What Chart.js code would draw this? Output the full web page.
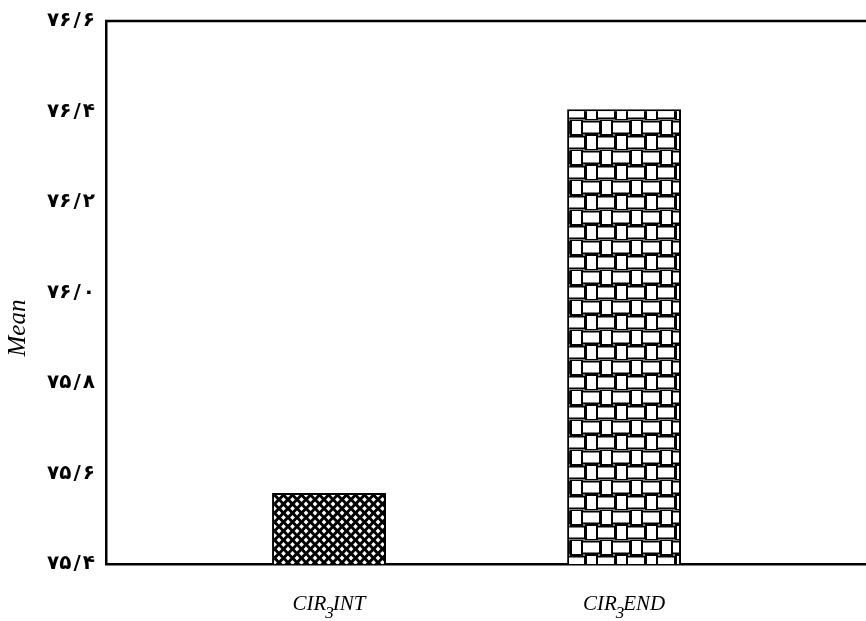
<!DOCTYPE html>
<html>
<head>
<meta charset="utf-8">
<script src="https://cdn.jsdelivr.net/npm/chart.js@4.4.1/dist/chart.umd.min.js"></script>
<style>
  html, body { margin: 0; padding: 0; background: #fff; }
  #wrap { width: 866px; height: 621px; position: relative; }
</style>
</head>
<body>
<div id="wrap"><canvas id="c" width="866" height="621"></canvas></div>
<script>
// ---- data ----
const categories = ['CIR3INT', 'CIR3END'];
const labelParts = [['CIR', '3', 'INT'], ['CIR', '3', 'END']];
const means = [75.557, 76.405];
const yTickValues = [75.4, 75.6, 75.8, 76.0, 76.2, 76.4, 76.6];
const yTickLabels = ['۷۵\u200a/\u200a۴', '۷۵\u200a/\u200a۶', '۷۵\u200a/\u200a۸', '۷۶\u200a/\u200a۰', '۷۶\u200a/\u200a۲', '۷۶\u200a/\u200a۴', '۷۶\u200a/\u200a۶'];
const yTitle = 'Mean';

// ---- patterns ----
function diamondPattern() {
  const P = 9;
  const c = document.createElement('canvas');
  c.width = P; c.height = P;
  const g = c.getContext('2d');
  g.fillStyle = '#000'; g.fillRect(0, 0, P, P);
  g.fillStyle = '#fff';
  const d = (x, y, r) => { g.beginPath(); g.moveTo(x, y - r); g.lineTo(x + r, y); g.lineTo(x, y + r); g.lineTo(x - r, y); g.closePath(); g.fill(); };
  const h = P / 2;
  d(h, h, 2.4); d(0, 0, 2.4); d(P, 0, 2.4); d(0, P, 2.4); d(P, P, 2.4);
  return g.createPattern(c, 'repeat');
}
function weavePattern() {
  const W = 30, H = 30;
  const c = document.createElement('canvas');
  c.width = W; c.height = H;
  const g = c.getContext('2d');
  g.fillStyle = '#fff'; g.fillRect(0, 0, W, H);
  g.strokeStyle = '#000'; g.lineWidth = 2;
  const rect = (x, y, w, h) => { [-W, 0, W].forEach(o => g.strokeRect(x + o, y, w, h)); };
  rect(1, 0, 11, 15);
  rect(12, 1.5, 18, 12);
  rect(16, 15, 11, 15);
  rect(27, 16.5, 18, 12);
  return g.createPattern(c, 'repeat');
}

const extras = {
  id: 'extras',
  afterDraw(chart) {
    const a = chart.chartArea, ctx = chart.ctx;
    ctx.save();
    ctx.strokeStyle = '#000'; ctx.lineWidth = 2.5;
    ctx.beginPath(); ctx.moveTo(a.left - 1, a.top); ctx.lineTo(a.right, a.top); ctx.stroke();
    const xs = chart.scales.x;
    ctx.fillStyle = '#000';
    ctx.textBaseline = 'alphabetic';
    const big = 'italic 21px "Liberation Serif", serif';
    const small = 'italic 17px "Liberation Serif", serif';
    labelParts.forEach((p, i) => {
      ctx.font = big; const w0 = ctx.measureText(p[0]).width, w2 = ctx.measureText(p[2]).width;
      ctx.font = small; const w1 = ctx.measureText(p[1]).width;
      const total = w0 + w1 + w2 - 2;
      let x = xs.getPixelForValue(i + 1) - total / 2;
      const base = 610;
      ctx.textAlign = 'left';
      ctx.font = big; ctx.fillText(p[0], x, base); x += w0;
      ctx.font = small; ctx.fillText(p[1], x - 1, base + 8); x += w1;
      ctx.font = big; ctx.fillText(p[2], x - 2, base);
    });
    ctx.translate(18, 328);
    ctx.rotate(-Math.PI / 2);
    ctx.textAlign = 'center'; ctx.textBaseline = 'middle';
    ctx.font = 'italic 25px "Liberation Serif", serif';
    ctx.fillText(yTitle, 0, 0);
    ctx.restore();
  }
};

new Chart(document.getElementById('c'), {
  type: 'bar',
  data: {
    datasets: [{
      data: categories.map((c, i) => ({ x: i + 1, y: means[i] })),
      backgroundColor: [diamondPattern(), weavePattern()],
      borderColor: '#000',
      borderWidth: 2,
      barPercentage: 0.386,
      categoryPercentage: 1
    }]
  },
  plugins: [extras],
  options: {
    responsive: false,
    animation: false,
    layout: { padding: { top: 19, right: 0, left: 0, bottom: 0 } },
    plugins: { legend: { display: false }, tooltip: { enabled: false } },
    scales: {
      x: {
        type: 'linear',
        min: 0.244, max: 2.82,
        offset: false,
        afterBuildTicks: s => { s.ticks = categories.map((c, i) => ({ value: i + 1 })); },
        afterFit: s => { s.height = 57; },
        grid: { display: false, drawTicks: false, offset: false },
        border: { display: true, color: '#000', width: 2.5 },
        ticks: { display: false }
      },
      y: {
        min: 75.4, max: 76.6,
        afterBuildTicks: s => { s.ticks = yTickValues.map(v => ({ value: v })); },
        afterFit: s => { s.width = 106; },
        grid: { display: false, drawTicks: false },
        border: { display: true, color: '#000', width: 2.5 },
        ticks: {
          callback: (v, i) => yTickLabels[i],
          color: '#000',
          padding: 11,
          font: { family: '"DejaVu Sans", sans-serif', weight: 'bold', size: 20, lineHeight: 1 }
        }
      }
    }
  }
});
</script>
</body>
</html>
